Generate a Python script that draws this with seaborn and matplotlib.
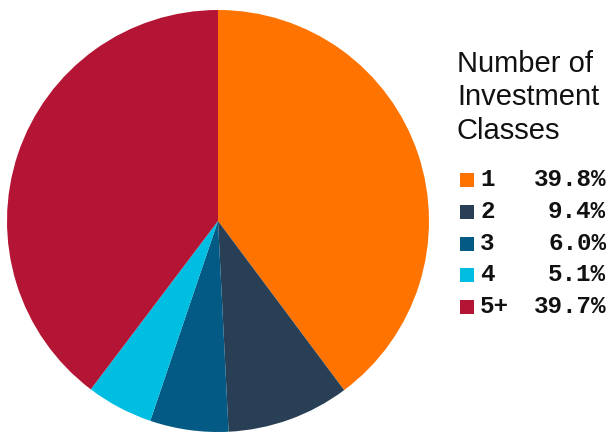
import matplotlib
matplotlib.use("Agg")
import matplotlib.pyplot as plt
from matplotlib.patches import Rectangle
import seaborn as sns

# Share of respondents by number of investment classes held
categories = ["1", "2", "3", "4", "5+"]
shares = [39.8, 9.4, 6.0, 5.1, 39.7]
colors = ["#FF7300", "#283F55", "#035A85", "#00BEE2", "#B51535"]
legend_title = "Number of\nInvestment\nClasses"

sns.set_theme(style="white")
palette = sns.color_palette(colors)

W, H = 607, 434
fig = plt.figure(figsize=(W / 100, H / 100), dpi=100)
fig.patch.set_facecolor("white")

# Pie occupies the left part of the canvas
cx, cy, r = 218, 221, 211
ax = fig.add_axes([(cx - r) / W, 1 - (cy + r) / H, 2 * r / W, 2 * r / H])
ax.pie(shares, colors=palette, startangle=90, counterclock=False,
       radius=1.0, wedgeprops=dict(linewidth=0, antialiased=True))
ax.set_xlim(-1, 1)
ax.set_ylim(-1, 1)
ax.set_aspect("equal")
ax.axis("off")

def fx(px):
    return px / W

def fy(py):
    return 1 - py / H

# Legend title (baseline of its last line)
fig.text(fx(457), fy(139), legend_title, ha="left", va="baseline",
         fontsize=21, family="Liberation Sans", color="#111111",
         linespacing=1.26)

# Legend entries: swatch, category and percentage
row0, step = 186, 31.8
for i, (cat, val, col) in enumerate(zip(categories, shares, palette)):
    base = row0 + i * step
    fig.patches.append(Rectangle((fx(460), fy(base + 1)), 14 / W, 14 / H,
                                 transform=fig.transFigure, facecolor=col,
                                 edgecolor="none"))
    fig.text(fx(480), fy(base), cat, ha="left", va="baseline",
             fontsize=17.5, family="Liberation Mono", fontweight="bold",
             color="#111111")
    fig.text(fx(606), fy(base), f"{val:.1f}%", ha="right", va="baseline",
             fontsize=17.5, family="Liberation Mono", fontweight="bold",
             color="#111111")

fig.savefig("out.png", dpi=100, facecolor="white")
